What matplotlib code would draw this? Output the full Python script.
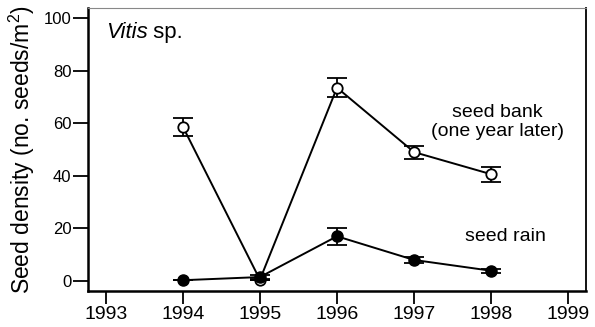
import matplotlib
matplotlib.use("Agg")
import matplotlib.pyplot as plt

plt.rcParams["font.family"] = ["Liberation Sans", "DejaVu Sans"]
plt.rcParams["mathtext.fontset"] = "custom"
plt.rcParams["mathtext.rm"] = "Liberation Sans"

years = [1994, 1995, 1996, 1997, 1998]

# seed bank (one year later), open circles
bank = [58.7, 0.5, 73.5, 49.0, 40.6]
bank_err = [3.4, 0.0, 3.6, 2.5, 2.8]

# seed rain, filled circles
rain = [0.3, 1.5, 17.0, 8.0, 3.9]
rain_err = [0.0, 0.8, 3.3, 1.0, 0.8]

xticks = [1993, 1994, 1995, 1996, 1997, 1998, 1999]
yticks = [0, 20, 40, 60, 80, 100]

fig = plt.figure(figsize=(5.95, 3.27), dpi=100)
ax = fig.add_axes([88 / 595, 1 - 291 / 327, 498 / 595, 283 / 327])

ax.errorbar(years, bank, yerr=bank_err, color="black", lw=1.4,
            marker="o", markersize=7.5, mfc="white", mec="black", mew=1.3,
            capsize=7, capthick=1.3, elinewidth=1.3)
ax.errorbar(years, rain, yerr=rain_err, color="black", lw=1.4,
            marker="o", markersize=8, mfc="black", mec="black",
            capsize=7, capthick=1.3, elinewidth=1.3)

ax.set_xlim(1992.77, 1999.23)
ax.set_ylim(-3.8, 103.8)
ax.set_xticks(xticks)
ax.set_yticks(yticks)
ax.tick_params(axis="y", length=11, width=1.3, labelsize=12, pad=1)
ax.tick_params(axis="x", length=9, width=1.3, labelsize=14, pad=2)

for side in ["left", "bottom"]:
    ax.spines[side].set_linewidth(1.8)
ax.spines["right"].set_linewidth(1.3)
ax.spines["top"].set_linewidth(0.8)
ax.spines["top"].set_color("#888888")

ax.set_ylabel("Seed density (no. seeds/m$^2$)", fontsize=16.5, labelpad=5)

t = ax.text(1993.0, 92.5, "Vitis", fontsize=16, style="italic", va="baseline")
ax.annotate(" sp.", xy=(1, 0), xycoords=t, fontsize=16, va="bottom")
ax.text(1998.08, 60.5, "seed bank\n(one year later)", fontsize=14,
        ha="center", va="center", linespacing=1.2)
ax.text(1998.18, 17.0, "seed rain", fontsize=14, ha="center", va="center")

fig.savefig("out.png", dpi=100)
